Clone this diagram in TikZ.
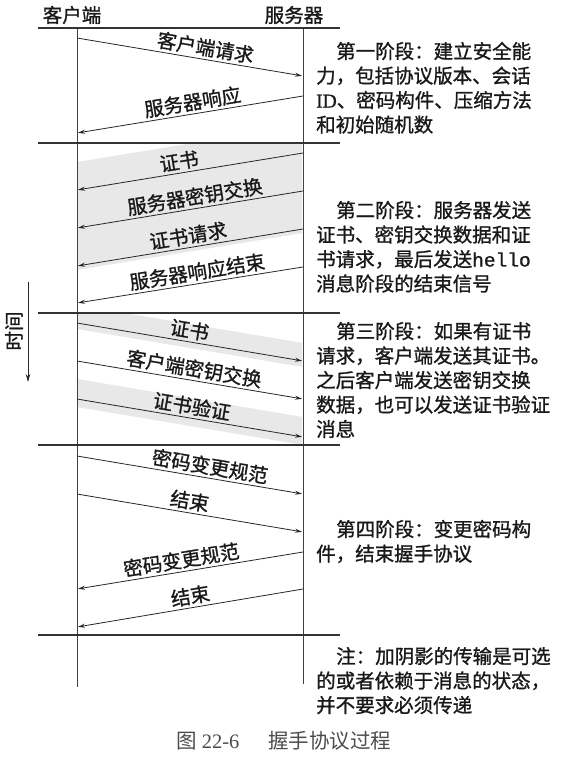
\documentclass[tikz,border=0pt]{standalone}
\usepackage{fontspec}
\usetikzlibrary{arrows.meta}
\newfontfamily\cjk[FakeBold=1.1]{Noto Sans CJK SC}
\newfontfamily\cjkcap{Noto Sans CJK SC}
\newfontfamily\latserif[FakeBold=1.1]{Liberation Serif}
\newfontfamily\capserif{Liberation Serif}
\newfontfamily\latmono[FakeBold=1.1]{Liberation Mono}
\begin{document}
\begin{tikzpicture}[x=1pt,y=-1pt,
  every node/.style={font=\cjk\fontsize{19.5}{24}\selectfont, inner sep=1pt, text=black!90},
  sep/.style={line width=1.5pt, black!80},
  life/.style={line width=0.8pt, black!75},
  msg/.style={line width=0.8pt, black!85, -{Stealth[length=7pt,width=4pt]}, shorten >=1pt},
  lbl/.style={sloped, above=1.5pt},
  note/.style={anchor=base west},
  optband/.style={fill=black!9},
]
\useasboundingbox (0,0) rectangle (566,771);

% ---- shaded bands for optional messages ----
\begin{scope}
  \clip (78,144) rectangle (302,312);
  \fill[optband] (77,162) -- (303,125) -- (303,233) -- (77,270) -- cycle;
\end{scope}
\begin{scope}
  \clip (78,314) rectangle (302,444);
  \fill[optband] (77,305) -- (303,343) -- (303,367) -- (77,329) -- cycle;
  \fill[optband] (77,379) -- (303,417) -- (303,445) -- (77,407) -- cycle;
\end{scope}

% ---- headers ----
\node (client) at (72,15) {客户端};
\node (server) at (294,15) {服务器};

% ---- lifelines ----
\coordinate (ctop) at (77,28);  \coordinate (cbot) at (77,687);
\coordinate (stop) at (303,28); \coordinate (sbot) at (303,684);
\draw[life] (ctop) -- (cbot);
\draw[life] (stop) -- (sbot);

% ---- phase separators ----
\foreach \y [count=\i] in {28,143,313,445,635} {
  \coordinate (sepL\i) at (38,\y);
  \coordinate (sepR\i) at (340,\y);
  \draw[sep] (sepL\i) -- (sepR\i);
}

% ---- time axis ----
\coordinate (ta) at (28,282); \coordinate (tb) at (28,382);
\draw[line width=0.8pt, black!85, -{Stealth[length=8pt,width=4.5pt]}] (ta) -- (tb);
\node[rotate=90] (time) at (14,331) {时间};

% ---- phase 1 ----
\coordinate (m1a) at (77,38);   \coordinate (m1b) at (303,76);
\draw[msg] (m1a) -- node[lbl,pos=0.56] (m1t) {客户端请求} (m1b);
\coordinate (m2a) at (303,96);  \coordinate (m2b) at (77,133);
\draw[msg] (m2a) -- node[lbl,pos=0.48] (m2t) {服务器响应} (m2b);

% ---- phase 2 ----
\coordinate (m3a) at (303,153); \coordinate (m3b) at (77,190);
\draw[msg] (m3a) -- node[lbl,pos=0.54] (m3t) {证书} (m3b);
\coordinate (m4a) at (303,191); \coordinate (m4b) at (77,228);
\draw[msg] (m4a) -- node[lbl,pos=0.47] (m4t) {服务器密钥交换} (m4b);
\coordinate (m5a) at (303,229); \coordinate (m5b) at (77,266);
\draw[msg] (m5a) -- node[lbl,pos=0.50] (m5t) {证书请求} (m5b);
\coordinate (m6a) at (303,267); \coordinate (m6b) at (77,303);
\draw[msg] (m6a) -- node[lbl,pos=0.46] (m6t) {服务器响应结束} (m6b);

% ---- phase 3 ----
\coordinate (m7a) at (77,323);  \coordinate (m7b) at (303,361);
\draw[msg] (m7a) -- node[lbl,pos=0.49] (m7t) {证书} (m7b);
\coordinate (m8a) at (77,361);  \coordinate (m8b) at (303,399);
\draw[msg] (m8a) -- node[lbl,pos=0.51] (m8t) {客户端密钥交换} (m8b);
\coordinate (m9a) at (77,399);  \coordinate (m9b) at (303,437);
\draw[msg] (m9a) -- node[lbl,pos=0.50] (m9t) {证书验证} (m9b);

% ---- phase 4 ----
\coordinate (m10a) at (77,456); \coordinate (m10b) at (303,494);
\draw[msg] (m10a) -- node[lbl,pos=0.58] (m10t) {密码变更规范} (m10b);
\coordinate (m11a) at (77,494); \coordinate (m11b) at (303,532);
\draw[msg] (m11a) -- node[lbl,pos=0.49] (m11t) {结束} (m11b);
\coordinate (m12a) at (303,552); \coordinate (m12b) at (77,589);
\draw[msg] (m12a) -- node[lbl,pos=0.53] (m12t) {密码变更规范} (m12b);
\coordinate (m13a) at (303,589); \coordinate (m13b) at (77,627);
\draw[msg] (m13a) -- node[lbl,pos=0.49] (m13t) {结束} (m13b);

% ---- phase descriptions ----
\node[note] (p1a) at (335,58.5)  {第一阶段：建立安全能};
\node[note] (p1b) at (315,83)    {力，包括协议版本、会话};
\node[note] (p1c) at (315,107.5) {{\latserif ID}、密码构件、压缩方法};
\node[note] (p1d) at (315,132)   {和初始随机数};

\node[note] (p2a) at (335,217.5) {第二阶段：服务器发送};
\node[note] (p2b) at (315,242)   {证书、密钥交换数据和证};
\node[note] (p2c) at (315,266.5) {书请求，最后发送{\latmono hello}};
\node[note] (p2d) at (315,291)   {消息阶段的结束信号};

\node[note] (p3a) at (335,338.5) {第三阶段：如果有证书};
\node[note] (p3b) at (315,363)   {请求，客户端发送其证书。};
\node[note] (p3c) at (315,387.5) {之后客户端发送密钥交换};
\node[note] (p3d) at (315,412)   {数据，也可以发送证书验证};
\node[note] (p3e) at (315,436.5) {消息};

\node[note] (p4a) at (335,536.5) {第四阶段：变更密码构};
\node[note] (p4b) at (315,561)   {件，结束握手协议};

\node[note] (n1) at (335,663.5) {注：加阴影的传输是可选};
\node[note] (n2) at (315,688)   {的或者依赖于消息的状态，};
\node[note] (n3) at (315,712.5) {并不要求必须传递};

% ---- caption ----
\node[anchor=base, text=black!70, font=\cjkcap\fontsize{20.5}{24}\selectfont] (cap) at (284,748.5)
  {图~{\capserif 22-6}\hspace{1.4em}握手协议过程};
\end{tikzpicture}
\end{document}
